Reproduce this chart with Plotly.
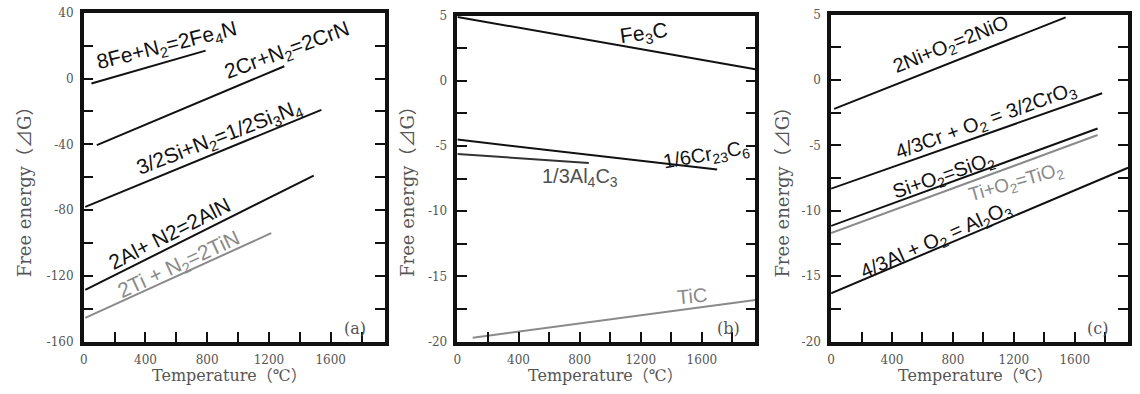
import plotly.graph_objects as go

W, H = 1140, 394

# ---------------- data (temperature in °C, free energy) ----------------
# Panel (a): nitrides
fe4n_T = [50, 790];    fe4n_G = [-3.0, 17.0]
crn_T = [85, 1300];    crn_G = [-40.5, 7.5]
si3n4_T = [10, 1540];  si3n4_G = [-78.0, -19.0]
aln_T = [10, 1490];    aln_G = [-128.5, -59.0]
tin_T = [10, 1215];    tin_G = [-145.5, -94.0]
# Panel (b): carbides
fe3c_T = [0, 1950];    fe3c_G = [4.9, 0.9]
cr23c6_T = [0, 1700];  cr23c6_G = [-4.5, -6.8]
al4c3_T = [0, 860];    al4c3_G = [-5.6, -6.3]
tic_T = [100, 1950];   tic_G = [-19.7, -16.8]
# Panel (c): oxides
nio_T = [20, 1540];    nio_G = [-2.2, 4.8]
cro3_T = [0, 1780];    cro3_G = [-8.3, -1.0]
sio2_T = [0, 1750];    sio2_G = [-11.15, -3.7]
tio2_T = [0, 1750];    tio2_G = [-11.7, -4.2]
al2o3_T = [0, 1950];   al2o3_G = [-16.3, -6.7]

x_tickvals = [0, 400, 800, 1200, 1600]
x_ticktext = ["0", "400", "800", "1200", "1600"]
x_minorvals = [200, 600, 1000, 1400, 1800]
ya_tickvals = [-160, -120, -80, -40, 0, 40]
ya_ticktext = ["-160", "-120", "-80", "-40", "0", "40"]
ya_minorvals = [-140, -100, -60, -20, 20]
ybc_tickvals = [-20, -15, -10, -5, 0, 5]
ybc_ticktext = ["-20", "-15", "-10", "-5", "0", "5"]
ybc_minorvals = [-17.5, -12.5, -7.5, -2.5, 2.5]

BLACK = "#111111"
GREY = "#8a8a8a"
SERIF = "DejaVu Serif, Liberation Serif, Noto Sans CJK SC, serif"
SANS = "Liberation Sans, Arial, sans-serif"

series = [
    ("x", "y", fe4n_T, fe4n_G, BLACK),
    ("x", "y", crn_T, crn_G, BLACK),
    ("x", "y", si3n4_T, si3n4_G, BLACK),
    ("x", "y", aln_T, aln_G, BLACK),
    ("x", "y", tin_T, tin_G, GREY),
    ("x2", "y2", fe3c_T, fe3c_G, BLACK),
    ("x2", "y2", cr23c6_T, cr23c6_G, BLACK),
    ("x2", "y2", al4c3_T, al4c3_G, "#333333"),
    ("x2", "y2", tic_T, tic_G, GREY),
    ("x3", "y3", nio_T, nio_G, BLACK),
    ("x3", "y3", cro3_T, cro3_G, BLACK),
    ("x3", "y3", sio2_T, sio2_G, BLACK),
    ("x3", "y3", tio2_T, tio2_G, GREY),
    ("x3", "y3", al2o3_T, al2o3_G, BLACK),
]

fig = go.Figure()
for xa, ya, T, G, col in series:
    fig.add_trace(go.Scatter(x=T, y=G, xaxis=xa, yaxis=ya, mode="lines",
                             line=dict(color=col, width=2), showlegend=False,
                             hoverinfo="skip"))

# plot areas in pixels: (left, right, top, bottom)
boxes = [(80, 382, 6, 347), (455, 754, 9, 347), (830, 1128, 8, 347)]

def xdom(b):
    return [b[0] / W, b[1] / W]

def ydom(b):
    return [1 - b[3] / H, 1 - b[2] / H]

tickfont = dict(family=SERIF, size=12, color="#555555")

def minor(vals):
    return dict(tickmode="array", tickvals=vals, ticks="inside", ticklen=10,
                tickwidth=2, tickcolor=BLACK, showgrid=False)

def xaxis(b, anchor):
    return dict(domain=xdom(b), anchor=anchor, range=[0, 1950],
                tickmode="array", tickvals=x_tickvals, ticktext=x_ticktext,
                minor=minor(x_minorvals),
                ticks="inside", ticklen=10, tickwidth=2, tickcolor=BLACK,
                showline=True, linecolor=BLACK, linewidth=3.5, mirror=True,
                showgrid=False, zeroline=False, tickfont=tickfont,
                ticklabelstandoff=4)

def yaxis(b, anchor, rng, tv, tt, mv):
    return dict(domain=ydom(b), anchor=anchor, range=rng,
                tickmode="array", tickvals=tv, ticktext=tt,
                minor=minor(mv),
                ticks="inside", ticklen=10, tickwidth=2, tickcolor=BLACK,
                showline=True, linecolor=BLACK, linewidth=3.5, mirror="ticks",
                showgrid=False, zeroline=False, tickfont=tickfont,
                ticklabelstandoff=4)

fig.update_layout(
    width=W, height=H,
    margin=dict(l=0, r=0, t=0, b=0),
    paper_bgcolor="white", plot_bgcolor="white",
    xaxis=xaxis(boxes[0], "y"),
    yaxis=yaxis(boxes[0], "x", [-160, 40], ya_tickvals, ya_ticktext, ya_minorvals),
    xaxis2=xaxis(boxes[1], "y2"),
    yaxis2=yaxis(boxes[1], "x2", [-20, 5], ybc_tickvals, ybc_ticktext, ybc_minorvals),
    xaxis3=xaxis(boxes[2], "y3"),
    yaxis3=yaxis(boxes[2], "x3", [-20, 5], ybc_tickvals, ybc_ticktext, ybc_minorvals),
)

def ann(text, px, py, angle=0, size=20, color=BLACK, family=SANS, yanchor="middle"):
    fig.add_annotation(text=text, x=px / W, y=1 - py / H, xref="paper", yref="paper",
                       showarrow=False, textangle=angle, xanchor="center",
                       yanchor=yanchor, borderpad=0,
                       font=dict(family=family, size=size, color=color))

# reaction labels
ann("8Fe+N<sub>2</sub>=2Fe<sub>4</sub>N", 164, 40, -14, 21)
ann("2Cr+N<sub>2</sub>=2CrN", 284, 46, -20, 21)
ann("3/2Si+N<sub>2</sub>=1/2Si<sub>3</sub>N<sub>4</sub>", 216, 136, -21, 21)
ann("2Al+ N2=2AlN", 166, 235, -27, 21)
ann("2Ti + N<sub>2</sub>=2TiN", 176, 267, -25, 21, GREY)

ann("Fe<sub>3</sub>C", 642, 28, -8, 21)
ann("1/6Cr<sub>23</sub>C<sub>6</sub>", 705, 154, -10, 20)
ann("1/3Al<sub>4</sub>C<sub>3</sub>", 578, 177, 0, 20, "#505050")
ann("TiC", 690, 300, -5, 20, GREY)

ann("2Ni+O<sub>2</sub>=2NiO", 950, 40, -22, 20)
ann("4/3Cr + O<sub>2</sub> = 3/2CrO<sub>3</sub>", 985, 119, -20, 20)
ann("Si+O<sub>2</sub>=SiO<sub>2</sub>", 943, 176, -19, 20)
ann("Ti+O<sub>2</sub>=TiO<sub>2</sub>", 1016, 183, -16, 19, GREY)
ann("4/3Al + O<sub>2</sub> = Al<sub>2</sub>O<sub>3</sub>", 936, 242, -24, 20)

# panel tags
ann("(a)", 352, 333, 0, 16, "#555555", SERIF)
ann("(b)", 727, 333, 0, 16, "#555555", SERIF)
ann("(c)", 1097, 333, 0, 16, "#555555", SERIF)

# axis titles
for cx in (20, 405, 781):
    ann("Free energy（⊿G）", cx, 187, -90, 18, "#555555", SERIF)
for cx in (226, 604, 975):
    ann("Temperature（℃）", cx, 393, 0, 16, "#555555", SERIF, yanchor="bottom")

fig.write_html("out.html")
